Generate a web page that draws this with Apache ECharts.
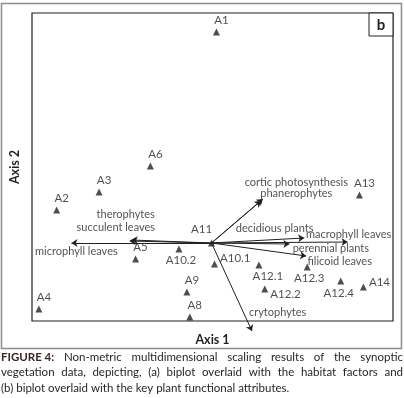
<!DOCTYPE html>
<html>
<head>
<meta charset="utf-8">
<script src="https://cdn.jsdelivr.net/npm/echarts@6/dist/echarts.min.js"></script>
<style>
  html, body { margin: 0; padding: 0; background: #fff; }
  #chart { width: 404px; height: 398px; }
</style>
</head>
<body>
<div id="chart"></div>
<script>
// NMDS site scores
var siteNames = ['A1', 'A2', 'A3', 'A6', 'A5', 'A10.2', 'A9', 'A8', 'A4', 'A11',
  'A10.1', 'A12.1', 'A12.2', 'A12.3', 'A12.4', 'A14', 'A13'];
var siteX = [0.05, -1.57, -1.14, -0.62, -0.77, -0.33, -0.25, -0.22, -1.75, 0.00,
  0.03, 0.48, 0.54, 0.97, 1.31, 1.54, 1.50];
var siteY = [2.11, 0.33, 0.51, 0.77, -0.16, -0.06, -0.49, -0.74, -0.66, 0.00,
  -0.21, -0.22, -0.46, -0.24, -0.38, -0.44, 0.48];

// functional attribute vectors (from origin)
var traitNames = ['therophytes', 'succulent leaves', 'microphyll leaves',
  'cortic photosynthesis', 'phanerophytes', 'decidious plants',
  'macrophyll leaves', 'perennial plants', 'filicoid leaves', 'crytophytes'];
var traitX = [-0.81, -0.83, -1.42, 0.52, 0.50, 0.94, 1.38, 0.79, 0.96, 0.41];
var traitY = [0.03, 0.02, 0.00, 0.44, 0.42, 0.05, 0.01, -0.01, -0.13, -0.88];
// where each vector's name sits
var traitLabelX = [-0.87, -0.97, -1.37, 0.86, 0.86, 0.64, 1.39, 1.21, 1.30, 0.67];
var traitLabelY = [0.29, 0.16, -0.08, 0.61, 0.50, 0.15, 0.09, -0.05, -0.18, -0.69];

var captionLines = [
  ['FIGURE 4:', 'Non-metric multidimensional scaling results of the synoptic'],
  ['', 'vegetation data, depicting, (a) biplot overlaid with the habitat factors and'],
  ['', '(b) biplot overlaid with the key plant functional attributes.']
];

var FONT = 'Lato, "Open Sans", sans-serif';
var INK = '#231f20';

// label placement for sites
var labelPos = {
  'A10.2': { position: 'bottom', offset: [2, 0] },
  'A10.1': { position: 'right', offset: [0, -6] },
  'A12.1': { position: 'bottom', offset: [9, 0] },
  'A12.2': { position: 'right', offset: [0, 5] },
  'A12.3': { position: 'bottom', offset: [2, 0] },
  'A12.4': { position: 'bottom', offset: [-2, 1] },
  'A14': { position: 'right', offset: [0, -5] },
  'A11': { position: 'top', offset: [-10, -2] }
};

var siteData = siteNames.map(function (n, i) {
  var p = labelPos[n] || { position: 'top', offset: [5, 0] };
  return {
    name: n,
    value: [siteX[i], siteY[i]],
    label: { position: p.position, offset: p.offset, distance: 2 }
  };
});

var vecData = traitNames.map(function (n, i) {
  return { name: n, coords: [[0, 0], [traitX[i], traitY[i]]] };
});

var vecLabelData = traitNames.map(function (n, i) {
  return { name: n, value: [traitLabelX[i], traitLabelY[i]] };
});

// frame, panel tag and a justified caption built from measured words
var graphics = [
  { type: 'rect', shape: { x: 1.5, y: 3.5, width: 400, height: 345 },
    style: { fill: 'none', stroke: '#8c8c8c', lineWidth: 1.5 }, silent: true },
  { type: 'rect', shape: { x: 369, y: 13, width: 24, height: 23 },
    style: { fill: '#fff', stroke: INK, lineWidth: 1 }, z: 10 },
  { type: 'text', x: 381, y: 25, z: 11,
    style: { text: 'b', font: 'bold 15px ' + FONT, fill: INK, align: 'center', verticalAlign: 'middle' } }
];

var ctx = document.createElement('canvas').getContext('2d');
var capFont = '11.5px ' + FONT;
var capBold = 'bold 11.5px ' + FONT;
var left = 1, right = 403;
captionLines.forEach(function (line, li) {
  var y = 357 + li * 15.5;
  var words = [];
  if (line[0]) words.push({ t: line[0], bold: true });
  line[1].split(' ').forEach(function (w) { words.push({ t: w, bold: false }); });
  var total = 0;
  words.forEach(function (w) {
    ctx.font = w.bold ? capBold : capFont;
    w.w = ctx.measureText(w.t).width;
    total += w.w;
  });
  ctx.font = capFont;
  var space = ctx.measureText(' ').width;
  var gap = li < captionLines.length - 1 ? (right - left - total) / (words.length - 1) : space;
  var x = left;
  words.forEach(function (w) {
    graphics.push({
      type: 'text', x: x, y: y,
      style: { text: w.t, font: w.bold ? capBold : capFont, fill: w.bold ? '#3d2626' : INK, verticalAlign: 'middle' }
    });
    x += w.w + gap;
  });
});

var chart = echarts.init(document.getElementById('chart'));
chart.setOption({
  animation: false,
  grid: { left: 27, right: 11, top: 13, bottom: 77, show: true, borderColor: INK, borderWidth: 1.2 },
  xAxis: {
    type: 'value', min: -1.82, max: 1.84,
    name: 'Axis 1', nameLocation: 'middle', nameGap: 12,
    nameTextStyle: { fontFamily: FONT, fontWeight: 'bold', fontSize: 12.5, color: INK },
    axisLine: { show: false }, axisTick: { show: false }, axisLabel: { show: false }, splitLine: { show: false }
  },
  yAxis: {
    type: 'value', min: -0.78, max: 2.30,
    name: 'Axis 2', nameLocation: 'middle', nameGap: 11,
    nameTextStyle: { fontFamily: FONT, fontWeight: 'bold', fontSize: 12.5, color: INK },
    axisLine: { show: false }, axisTick: { show: false }, axisLabel: { show: false }, splitLine: { show: false }
  },
  graphic: graphics,
  series: [
    {
      type: 'lines',
      coordinateSystem: 'cartesian2d',
      clip: false,
      symbol: ['none', 'arrow'],
      symbolSize: 6,
      lineStyle: { color: INK, width: 1, opacity: 1 },
      data: vecData,
      z: 3
    },
    {
      type: 'scatter',
      symbol: 'triangle',
      symbolSize: 7,
      itemStyle: { color: INK },
      label: { show: true, formatter: '{b}', fontFamily: FONT, fontSize: 11.5, color: INK },
      data: siteData,
      z: 2
    },
    {
      type: 'scatter',
      symbolSize: 0,
      label: { show: true, position: 'inside', formatter: '{b}', fontFamily: FONT, fontSize: 11, color: INK },
      data: vecLabelData,
      z: 4
    }
  ]
});
</script>
</body>
</html>
